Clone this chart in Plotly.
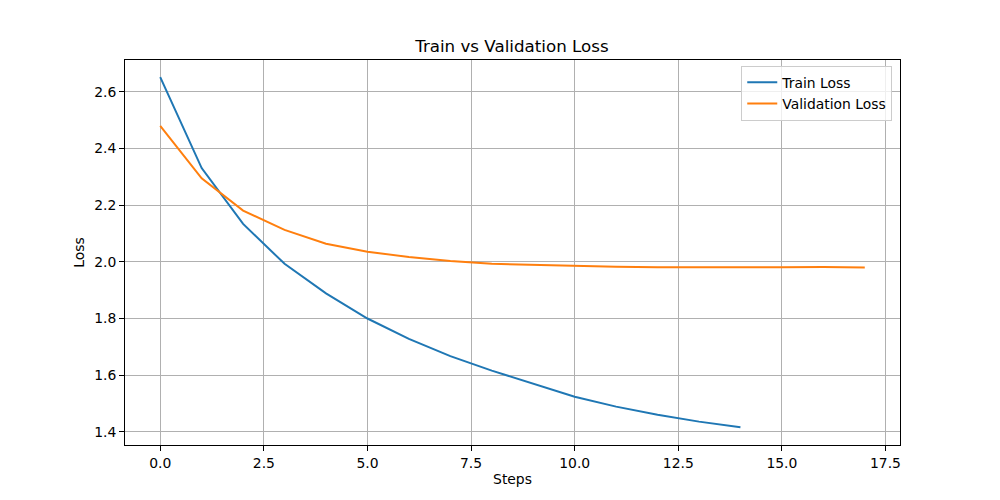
import plotly.graph_objects as go

train_steps = list(range(15))
train_loss = [2.652, 2.331, 2.134, 1.993, 1.889, 1.800, 1.728, 1.667, 1.616, 1.569,
              1.524, 1.489, 1.460, 1.436, 1.416]
val_steps = list(range(18))
val_loss = [2.480, 2.295, 2.181, 2.113, 2.064, 2.036, 2.017, 2.003, 1.993, 1.989,
            1.985, 1.983, 1.981, 1.980, 1.981, 1.981, 1.982, 1.980]
x_ticks = [0.0, 2.5, 5.0, 7.5, 10.0, 12.5, 15.0, 17.5]
y_ticks = [1.4, 1.6, 1.8, 2.0, 2.2, 2.4, 2.6]

FS = 13.9

fig = go.Figure()
fig.add_trace(go.Scatter(x=train_steps, y=train_loss, mode="lines", name="Train Loss",
                         line=dict(color="#1f77b4", width=2)))
fig.add_trace(go.Scatter(x=val_steps, y=val_loss, mode="lines", name="Validation Loss",
                         line=dict(color="#ff7f0e", width=2)))

axis_common = dict(showline=True, linecolor="black", linewidth=1, mirror=True,
                   ticks="outside", ticklen=5, tickcolor="black", automargin=False,
                   showgrid=True, gridcolor="#b0b0b0", gridwidth=1, zeroline=False,
                   tickfont=dict(family="DejaVu Sans", size=FS, color="black"))

fig.update_layout(
    width=992, height=492,
    paper_bgcolor="white", plot_bgcolor="white",
    margin=dict(l=117, r=100, t=52, b=55, autoexpand=False),
    font=dict(family="DejaVu Sans", size=FS, color="black"),
    title=dict(text="Train vs Validation Loss", x=0.508, xanchor="center", y=0.9228, yanchor="middle",
               font=dict(family="DejaVu Sans", size=16.7, color="black")),
    xaxis=dict(title=dict(text="Steps", standoff=4, font=dict(size=FS)), range=[-0.85, 17.85],
               tickvals=x_ticks, tickformat=".1f", **axis_common),
    yaxis=dict(title=dict(text="Loss", standoff=6, font=dict(size=FS)), range=[1.3535, 2.7125],
               tickvals=y_ticks, tickformat=".1f", **axis_common),
    legend=dict(x=0.99, y=0.985, xanchor="right", yanchor="top",
                bgcolor="rgba(255,255,255,0.8)", bordercolor="#cccccc", borderwidth=1,
                font=dict(family="DejaVu Sans", size=FS, color="black"),
                tracegroupgap=0, itemwidth=30),
    showlegend=True,
)

fig.write_html("out.html")
